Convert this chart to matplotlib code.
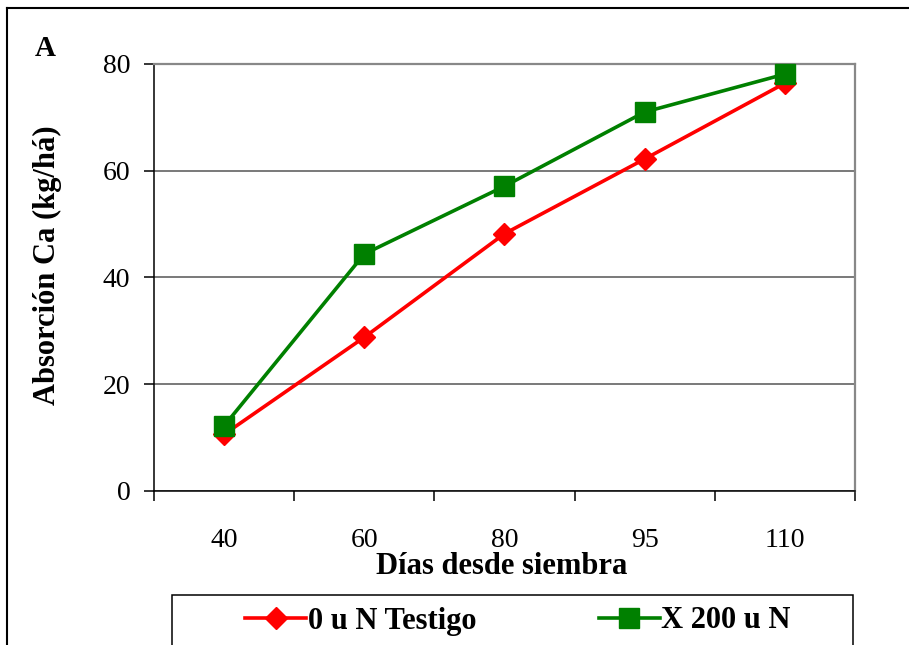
import matplotlib.pyplot as plt
from matplotlib.lines import Line2D
from matplotlib.patches import Rectangle

plt.rcParams["font.family"] = ["Liberation Serif", "DejaVu Serif"]

dias = ["40", "60", "80", "95", "110"]
testigo = [10.6, 28.8, 48.2, 62.2, 76.4]
n200 = [12.2, 44.4, 57.1, 71.0, 78.1]
serie_labels = ["0 u N Testigo", "X 200 u N"]

fig = plt.figure(figsize=(9.09, 6.45), dpi=100)
ax = fig.add_axes([0.1694, 0.2388, 0.7712, 0.662])

x = range(len(dias))
ax.plot(x, testigo, color="red", lw=2.6, marker="D", ms=11,
        label=serie_labels[0], clip_on=False, zorder=3)
ax.plot(x, n200, color="green", lw=2.6, marker="s", ms=14,
        label=serie_labels[1], clip_on=False, zorder=4)

ax.set_xlim(-0.5, len(dias) - 0.5)
ax.set_ylim(0, 80)
ax.set_yticks([0, 20, 40, 60, 80])
ax.yaxis.grid(True, color="#555555", lw=1.1)
ax.set_axisbelow(True)

ax.set_xticks(list(x))
ax.set_xticklabels(dias)
ax.set_xticks([i - 0.5 for i in range(len(dias) + 1)], minor=True)
ax.tick_params(axis="x", which="major", length=0, pad=27, labelsize=20)
ax.tick_params(axis="x", which="minor", length=7, width=1.1, direction="out")
ax.tick_params(axis="y", length=7, width=1.1, pad=10, labelsize=20)

for s in ["left", "bottom"]:
    ax.spines[s].set_color("black")
    ax.spines[s].set_linewidth(1.1)
for s in ["right", "top"]:
    ax.spines[s].set_color("#888888")
    ax.spines[s].set_linewidth(1.6)

fig.text(502 / 909, 1 - 567 / 645, "Días desde siembra", ha="center", va="center",
         fontsize=22, fontweight="bold")
fig.text(47 / 909, 1 - 265 / 645, "Absorción Ca (kg/há)", ha="center", va="center",
         rotation=90, fontsize=22, fontweight="bold")
fig.text(45 / 909, 1 - 48 / 645, "A", ha="center", va="center",
         fontsize=21, fontweight="bold")

# legend
h, l = ax.get_legend_handles_labels()
fig.legend(h, l, loc="center", bbox_to_anchor=(518 / 909, 1 - 621 / 645), ncol=2,
           frameon=False, handlelength=2.0, columnspacing=4.0, handletextpad=0.05,
           prop={"size": 22, "weight": "bold"})
fig.patches.append(Rectangle((172 / 909, -0.05), (853 - 172) / 909, 0.05 + 1 - 595 / 645,
                             transform=fig.transFigure, fill=False, ec="black", lw=1.1))

# outer frame
fig.lines.append(Line2D([7 / 909, 1], [1 - 8 / 645, 1 - 8 / 645], transform=fig.transFigure,
                        color="black", lw=1.5))
fig.lines.append(Line2D([7 / 909, 7 / 909], [0, 1 - 8 / 645], transform=fig.transFigure,
                        color="black", lw=1.5))

plt.savefig("out.png", dpi=100)
